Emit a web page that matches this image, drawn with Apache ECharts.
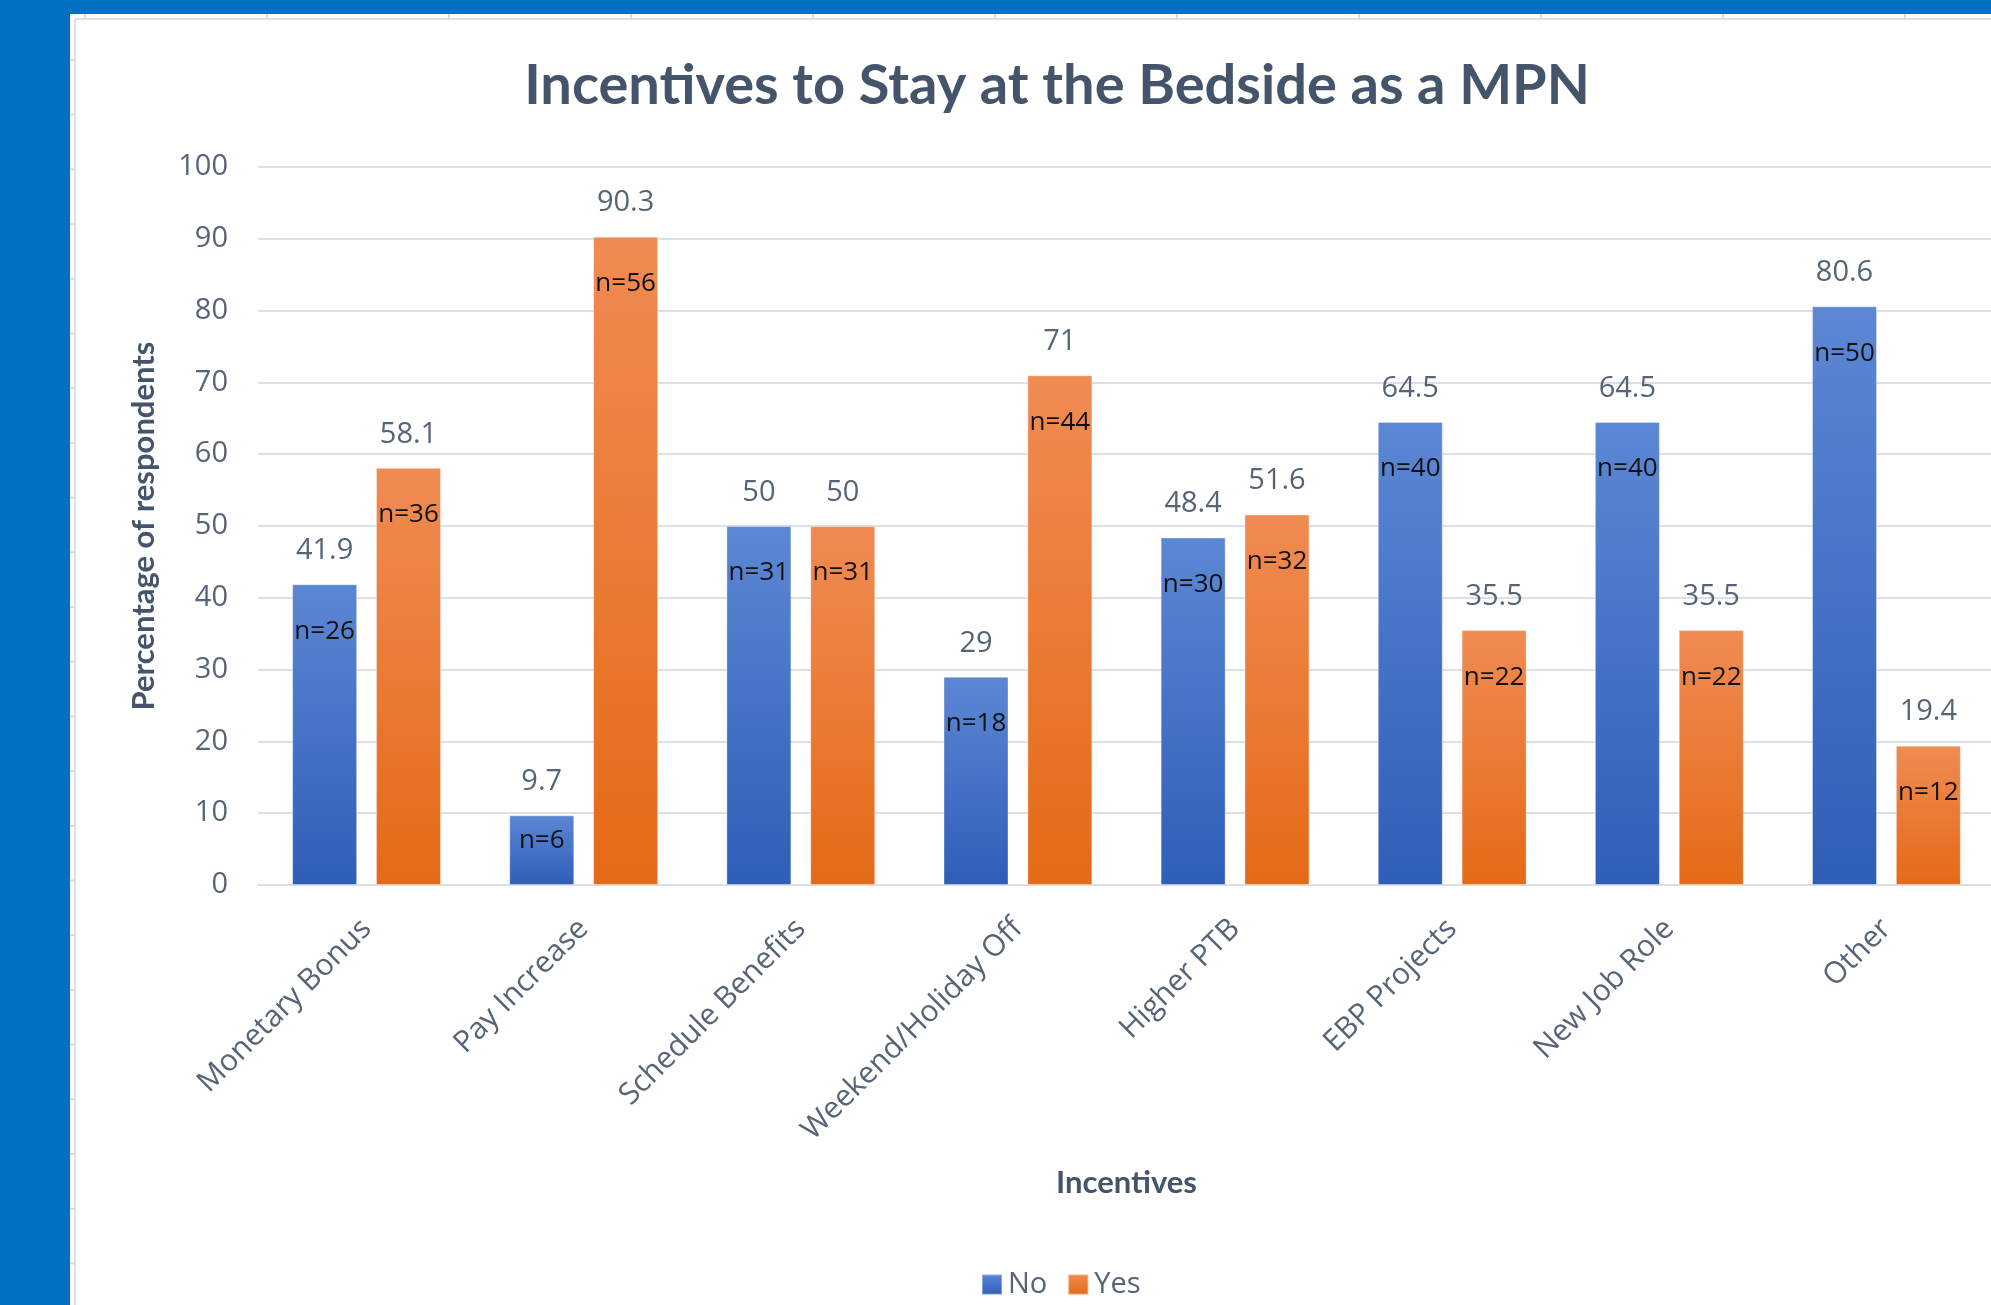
<!DOCTYPE html>
<html>
<head>
<meta charset="utf-8">
<title>Incentives to Stay at the Bedside as a MPN</title>
<script src="https://cdn.jsdelivr.net/npm/echarts@6/dist/echarts.min.js"></script>
<style>
  html, body { margin: 0; padding: 0; overflow: hidden; background: #0070C0; }
  #frame { position: absolute; left: 0; top: 0; width: 2000px; height: 1305px; }
  #chart { position: absolute; left: 0; top: 0; width: 2000px; height: 1305px; }
</style>
</head>
<body>
<svg id="frame" xmlns="http://www.w3.org/2000/svg" width="2000" height="1305"></svg>
<div id="chart"></div>
<script>
// Survey results: share of respondents (%) and counts for each incentive
const categories = ['Monetary Bonus', 'Pay Increase', 'Schedule Benefits', 'Weekend/Holiday Off',
                    'Higher PTB', 'EBP Projects', 'New Job Role', 'Other'];
const noPct  = [41.9, 9.7, 50, 29, 48.4, 64.5, 64.5, 80.6];
const yesPct = [58.1, 90.3, 50, 71, 51.6, 35.5, 35.5, 19.4];
const noCount  = [26, 6, 31, 18, 30, 40, 40, 50];
const yesCount = [36, 56, 31, 44, 32, 22, 22, 12];
const yTicks = [0, 10, 20, 30, 40, 50, 60, 70, 80, 90, 100];

// Worksheet frame behind the chart: white sheet, cell borders peeking out
(function drawFrame() {
  const svg = document.getElementById('frame');
  const ns = 'http://www.w3.org/2000/svg';
  const add = (tag, attrs) => {
    const el = document.createElementNS(ns, tag);
    for (const k in attrs) el.setAttribute(k, attrs[k]);
    svg.appendChild(el);
  };
  add('rect', { x: 70, y: 14, width: 1930, height: 1291, fill: '#ffffff' });
  add('line', { x1: 75, y1: 19, x2: 2000, y2: 19, stroke: '#DEE1E6', 'stroke-width': 2 });
  add('line', { x1: 75, y1: 19, x2: 75, y2: 1305, stroke: '#DEE1E6', 'stroke-width': 2 });
  for (let x = 85; x < 2000; x += 182) {
    add('line', { x1: x, y1: 14, x2: x, y2: 19, stroke: '#D6D9DE', 'stroke-width': 2 });
  }
  for (let y = 60; y < 1305; y += 54.7) {
    add('line', { x1: 70, y1: y, x2: 75, y2: y, stroke: '#D6D9DE', 'stroke-width': 2 });
  }
})();

const textGrey = '#576478';
const titleGrey = '#44546A';
const gridGrey = '#DCE0E6';

const blueFill = new echarts.graphic.LinearGradient(0, 0, 0, 1, [
  { offset: 0, color: '#5C87D4' }, { offset: 1, color: '#2F5EB8' }
]);
const orangeFill = new echarts.graphic.LinearGradient(0, 0, 0, 1, [
  { offset: 0, color: '#F08B53' }, { offset: 1, color: '#E46A16' }
]);

const barWidth = 65;
const barGap = '29%';

function valueSeries(name, data, fill) {
  return {
    name: name,
    type: 'bar',
    xAxisIndex: 0,
    data: data,
    barWidth: barWidth,
    barGap: barGap,
    itemStyle: { color: fill, borderColor: 'rgba(255,255,255,0.35)', borderWidth: 1 },
    label: {
      show: true,
      position: 'top',
      distance: 19,
      fontFamily: 'Open Sans',
      fontSize: 29,
      color: textGrey
    }
  };
}

// Transparent twin bars on a hidden axis carry the "n=" count labels;
// short bars get their count a little closer to the top edge
function countSeries(data, counts) {
  return {
    type: 'bar',
    xAxisIndex: 1,
    data: data.map((v) => ({
      value: v,
      label: { distance: v < 15 ? 12 : 34 }
    })),
    barWidth: barWidth,
    barGap: barGap,
    silent: true,
    z: 5,
    itemStyle: { color: 'rgba(0,0,0,0)' },
    label: {
      show: true,
      position: 'insideTop',
      fontFamily: 'Open Sans',
      fontSize: 26,
      color: '#111111',
      formatter: (p) => 'n=' + counts[p.dataIndex]
    }
  };
}

const chart = echarts.init(document.getElementById('chart'), null, { renderer: 'canvas' });

chart.setOption({
  animation: false,
  backgroundColor: 'transparent',
  title: {
    text: 'Incentives to Stay at the Bedside as a MPN',
    left: 1052,
    top: 53,
    textAlign: 'center',
    textStyle: {
      fontFamily: 'Lato',
      fontWeight: 'bold',
      fontSize: 56,
      color: titleGrey
    }
  },
  legend: {
    data: ['No', 'Yes'],
    left: 976,
    top: 1265,
    itemWidth: 20,
    itemHeight: 20,
    itemGap: 20,
    icon: 'rect',
    textStyle: {
      fontFamily: 'Open Sans',
      fontSize: 29,
      color: textGrey,
      padding: [0, 0, 0, 1]
    }
  },
  grid: { left: 258, right: 5, top: 167, bottom: 420 },
  xAxis: [
    {
      type: 'category',
      data: categories,
      name: 'Incentives',
      nameLocation: 'middle',
      nameGap: 282,
      nameTextStyle: { fontFamily: 'Lato', fontWeight: 'bold', fontSize: 31, color: titleGrey },
      axisLine: { show: true, lineStyle: { color: gridGrey, width: 2 } },
      axisTick: { show: false },
      axisLabel: {
        rotate: 45,
        margin: 39,
        interval: 0,
        fontFamily: 'Open Sans',
        fontSize: 30,
        color: textGrey
      }
    },
    {
      type: 'category',
      data: categories,
      show: false
    }
  ],
  yAxis: {
    type: 'value',
    min: yTicks[0],
    max: yTicks[yTicks.length - 1],
    interval: yTicks[1] - yTicks[0],
    name: 'Percentage of respondents',
    nameLocation: 'middle',
    nameGap: 99,
    nameTextStyle: { fontFamily: 'Lato', fontWeight: 'bold', fontSize: 31, color: titleGrey },
    axisLine: { show: false },
    axisTick: { show: false },
    axisLabel: { margin: 30, fontFamily: 'Open Sans', fontSize: 29, color: textGrey },
    splitLine: { lineStyle: { color: gridGrey, width: 2 } }
  },
  series: [
    valueSeries('No', noPct, blueFill),
    valueSeries('Yes', yesPct, orangeFill),
    countSeries(noPct, noCount),
    countSeries(yesPct, yesCount)
  ]
});
</script>
</body>
</html>
